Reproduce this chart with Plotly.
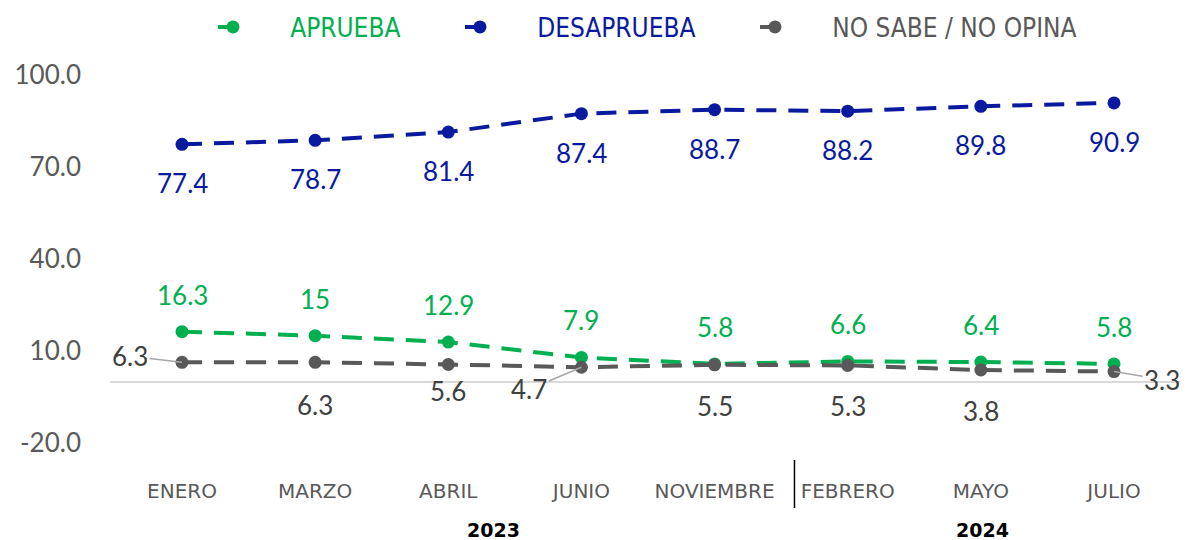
import plotly.graph_objects as go

meses = ["ENERO", "MARZO", "ABRIL", "JUNIO", "NOVIEMBRE", "FEBRERO", "MAYO", "JULIO"]
aprueba = [16.3, 15, 12.9, 7.9, 5.8, 6.6, 6.4, 5.8]
desaprueba = [77.4, 78.7, 81.4, 87.4, 88.7, 88.2, 89.8, 90.9]
no_sabe = [6.3, 6.3, 5.6, 4.7, 5.5, 5.3, 3.8, 3.3]
anios = ["2023", "2024"]
y_ticks = [-20, 10, 40, 70, 100]
y_tick_text = ["-20.0", "10.0", "40.0", "70.0", "100.0"]

# label offsets (pixels) for NO SABE / NO OPINA labels: (ax, ay, arrow)
ns_offsets = [(-52, -6, True), (0, 43, False), (0, 27, False), (-52, 22, True),
              (0, 41, False), (0, 41, False), (0, 41, False), (48, 8, True)]

GREEN = "#00B050"
BLUE = "#0A1A9E"
GRAY = "#595959"
LABEL_FONT = "Lato, Carlito, 'Open Sans', sans-serif"
AX_FONT = "'DejaVu Sans', Verdana, sans-serif"
LEG_FONT = "'DejaVu Sans Condensed', 'DejaVu Sans', sans-serif"

# page body has an 8px margin: figure is placed at (8, 8)
W, H = 1180, 532
ML, MR, MT, MB = 102, 6, 67, 97
PLOT_H = H - MT - MB
PLOT_W = W - ML - MR

fig = go.Figure()
series = [
    ("APRUEBA", aprueba, GREEN, "legend", 213),
    ("DESAPRUEBA", desaprueba, BLUE, "legend2", 460),
    ("NO SABE / NO OPINA", no_sabe, GRAY, "legend3", 755),
]
legends = {}
for name, vals, col, leg, lx in series:
    fig.add_trace(go.Scatter(
        x=meses, y=vals, mode="lines+markers",
        name=f"<span style='color:{col}'>\u00a0\u00a0\u00a0\u00a0\u00a0{name}</span>",
        line=dict(color=col, width=4, dash="20px,12px"),
        marker=dict(color=col, size=13),
        legend=leg,
    ))
    legends[leg] = dict(orientation="h", x=(lx - 8 - ML) / PLOT_W, xanchor="left",
                        y=1 - 19 / H, yref="container", yanchor="middle",
                        font=dict(family=LEG_FONT, size=26), bgcolor="rgba(0,0,0,0)")

annotations = []
for m, v in zip(meses, desaprueba):
    annotations.append(dict(x=m, y=v, text=f"{v:g}", showarrow=False, yshift=-39,
                            font=dict(family=LABEL_FONT, size=26, color=BLUE)))
for m, v in zip(meses, aprueba):
    annotations.append(dict(x=m, y=v, text=f"{v:g}", showarrow=False, yshift=37,
                            font=dict(family=LABEL_FONT, size=26, color=GREEN)))
for m, v, (ax, ay, arr) in zip(meses, no_sabe, ns_offsets):
    if arr:
        annotations.append(dict(x=m, y=v, text=f"{v:g}", showarrow=True, arrowhead=0,
                                arrowwidth=1.5, arrowcolor="#A6A6A6", ax=ax, ay=ay,
                                standoff=0,
                                font=dict(family=LABEL_FONT, size=26, color="#404040")))
    else:
        annotations.append(dict(x=m, y=v, text=f"{v:g}", showarrow=False, yshift=-ay,
                                font=dict(family=LABEL_FONT, size=26, color="#404040")))

# year labels
for xpos, yr in zip([2.34, 6.01], anios):
    annotations.append(dict(x=xpos, y=-(530 - 443) / PLOT_H, xref="x", yref="paper",
                            yanchor="middle", text=f"<b>{yr}</b>", showarrow=False,
                            font=dict(family=AX_FONT, size=19, color="black")))

fig.update_layout(
    width=W, height=H,
    margin=dict(l=ML, r=MR, t=MT, b=MB, autoexpand=False),
    paper_bgcolor="white", plot_bgcolor="white",
    showlegend=True,
    annotations=annotations,
    shapes=[dict(type="line", xref="x", yref="paper", x0=4.6, x1=4.6,
                 y0=-(460 - 443) / PLOT_H, y1=-(508 - 443) / PLOT_H,
                 line=dict(color="black", width=1.5))],
    **legends,
)
fig.update_xaxes(showgrid=False, showline=False, ticks="", ticklabelstandoff=34,
                 automargin=False,
                 tickfont=dict(family=AX_FONT, size=20, color=GRAY))
fig.update_yaxes(range=[-20, 100], tickvals=y_ticks, ticktext=y_tick_text,
                 showgrid=False, automargin=False,
                 zeroline=True, zerolinecolor="#D9D9D9", zerolinewidth=2,
                 ticklabelstandoff=28,
                 tickfont=dict(family=LABEL_FONT, size=26, color=GRAY))

fig.write_html("out.html")
